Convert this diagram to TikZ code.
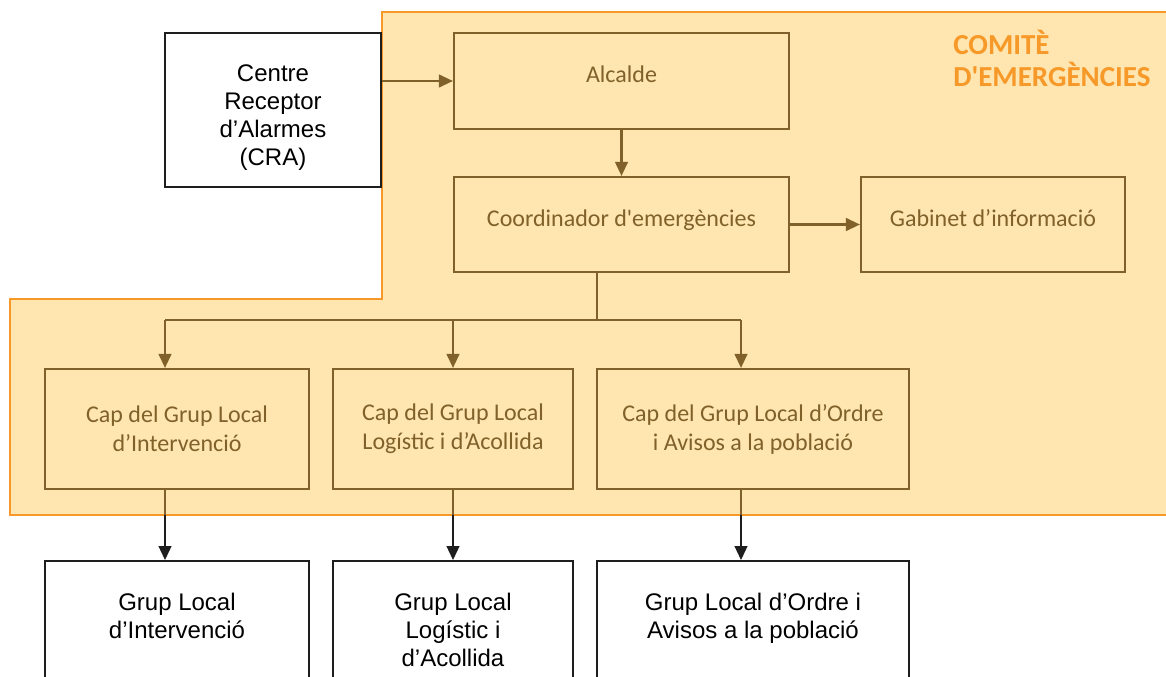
\documentclass[tikz,border=0pt]{standalone}
\usepackage{fontspec}
\setmainfont{Carlito}
\newfontfamily\arialfont{Liberation Sans}
\usetikzlibrary{arrows.meta}
\usetikzlibrary{positioning}

\definecolor{comitefill}{RGB}{255,229,175}
\definecolor{comiteline}{RGB}{247,153,40}
\definecolor{brownline}{RGB}{127,97,41}
\definecolor{boxline}{RGB}{30,30,30}

\tikzset{
  cbox/.style={draw=brownline,line width=1.6pt,fill=comitefill,text=brownline,
    font=\fontsize{18}{21.75}\selectfont,align=center,inner sep=0pt},
  wbox/.style={draw=boxline,line width=1.4pt,fill=white,text=black,
    font=\arialfont\fontsize{18}{21}\selectfont,align=center,inner sep=0pt},
  wtext/.style={text=black,font=\arialfont\fontsize{18}{21}\selectfont,align=center,inner sep=0pt},
  barrow/.style={draw=brownline,line width=1.6pt,-{Triangle[length=10.5pt,width=9.5pt]}},
  karrow/.style={draw=boxline,line width=1.6pt,-{Triangle[length=10.5pt,width=9.5pt]}},
}

\begin{document}
\begin{tikzpicture}[x=0.75pt,y=0.75pt,yscale=-1]
        \useasboundingbox (0,0) rectangle (1166,677);
        \clip (0,0) rectangle (1166,677);
        %Shape: Comite area
        \draw [draw=comiteline,line width=1.5pt,fill=comitefill] (382,12) -- (1175,12) -- (1175,515) -- (10,515) -- (10,299) -- (382,299) -- cycle ;
        \coordinate (cbot) at (10,515) ;
        % Text Node
        \node (titol) [anchor=base west,inner sep=0pt,align=left,text=comiteline,font=\bfseries\fontsize{21.75}{24}\selectfont] at (953,87) {COMITÈ\\D\textquotesingle EMERGÈNCIES};

        %Boxes
        \node (cra) [wbox,minimum width=162pt,minimum height=115.5pt] at (273,110) {};
        \node (alcalde) [cbox,minimum width=251.25pt,minimum height=72pt,text depth=10pt] at (621.5,81) {Alcalde};
        \node (coord) [cbox,minimum width=251.25pt,minimum height=71.25pt,text depth=10pt] at (621.5,224.5) {Coordinador d\textquotesingle emergències};
        \node (gabinet) [cbox,minimum width=198pt,minimum height=71.25pt,text depth=10pt] at (993,224.5) {Gabinet d’informació};
        \node (capA) [cbox,minimum width=198pt,minimum height=90pt] at (177,429) {Cap del Grup Local\\d’Intervenció};
        \node (capB) [cbox,minimum width=180pt,minimum height=90pt] at (453,429) {Cap del Grup Local\\Logístic i d’Acollida};
        \node (capC) [cbox,minimum width=234pt,minimum height=90pt] at (753,429) {Cap del Grup Local d’Ordre\\i Avisos a la població};
        \node (grupA) [wbox,minimum width=198pt,minimum height=112.5pt] at (177,636) {};
        \node (grupB) [wbox,minimum width=180pt,minimum height=112.5pt] at (453,636) {};
        \node (grupC) [wbox,minimum width=234pt,minimum height=112.5pt] at (753,636) {};
        % Text Node
        \node (cratxt) [wtext,anchor=north,below=24.5pt of cra.north] {Centre\\Receptor\\d’Alarmes\\(CRA)};
        \node (grupAtxt) [wtext,anchor=north,below=24.5pt of grupA.north] {Grup Local\\d’Intervenció};
        \node (grupBtxt) [wtext,anchor=north,below=24.5pt of grupB.north] {Grup Local\\Logístic i\\d’Acollida};
        \node (grupCtxt) [wtext,anchor=north,below=24.5pt of grupC.north] {Grup Local d’Ordre i\\Avisos a la població};

        %Connectors
        \coordinate (split) at (597,320) ;
        \coordinate (brA) at (165,320) ;
        \coordinate (brB) at (453,320) ;
        \coordinate (brC) at (741,320) ;
        \draw [barrow] (cra.east |- alcalde.west) -- (alcalde.west) ;
        \draw [barrow] (alcalde.south) -- (coord.north) ;
        \draw [barrow] (coord.east) -- (gabinet.west) ;
        \draw [draw=brownline,line width=1.6pt] (coord.south -| split) -- (split) ;
        \draw [draw=brownline,line width=1.6pt] (brA) -- (brC) ;
        \draw [barrow] (brA) -- (brA |- capA.north) ;
        \draw [barrow] (brB) -- (brB |- capB.north) ;
        \draw [barrow] (brC) -- (brC |- capC.north) ;
        \draw [draw=brownline,line width=1.6pt] (capA.south -| brA) -- (brA |- cbot) ;
        \draw [draw=brownline,line width=1.6pt] (capB.south -| brB) -- (brB |- cbot) ;
        \draw [draw=brownline,line width=1.6pt] (capC.south -| brC) -- (brC |- cbot) ;
        \draw [karrow] (brA |- cbot) -- (grupA.north -| brA) ;
        \draw [karrow] (brB |- cbot) -- (grupB.north -| brB) ;
        \draw [karrow] (brC |- cbot) -- (grupC.north -| brC) ;
\end{tikzpicture}
\end{document}
